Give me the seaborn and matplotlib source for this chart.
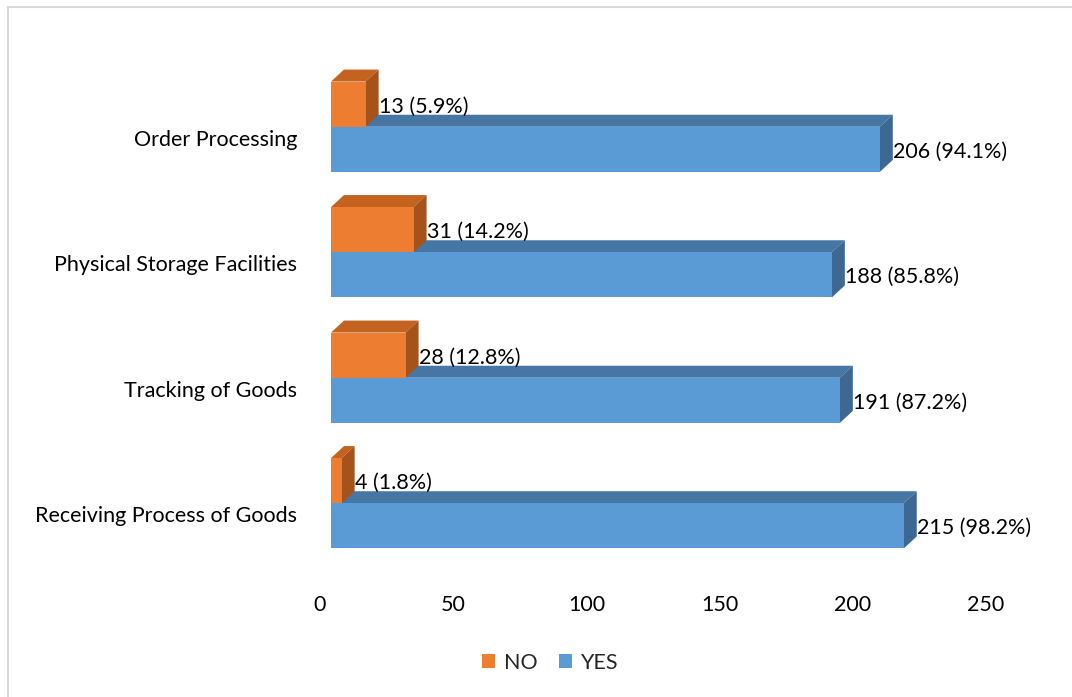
import numpy as np
import pandas as pd
import matplotlib
matplotlib.use("Agg")
import matplotlib.pyplot as plt
from matplotlib.patches import Polygon
from matplotlib.lines import Line2D
from matplotlib.transforms import ScaledTranslation
import seaborn as sns

categories = ["Order Processing", "Physical Storage Facilities",
              "Tracking of Goods", "Receiving Process of Goods"]
no_counts = [13, 31, 28, 4]
yes_counts = [206, 188, 191, 215]
no_pct = ["5.9%", "14.2%", "12.8%", "1.8%"]
yes_pct = ["94.1%", "85.8%", "87.2%", "98.2%"]
series = ["NO", "YES"]
x_ticks = [0, 50, 100, 150, 200, 250]

colors = {"NO": "#ED7D31", "YES": "#5B9BD5"}
top_col = {"NO": "#C4631F", "YES": "#4676A3"}
side_col = {"NO": "#A5521B", "YES": "#3D6891"}

df = pd.DataFrame({
    "category": categories * 2,
    "answer": ["NO"] * 4 + ["YES"] * 4,
    "count": no_counts + yes_counts,
    "label": [f"{n} ({p})" for n, p in zip(no_counts, no_pct)] +
             [f"{n} ({p})" for n, p in zip(yes_counts, yes_pct)],
})

sns.set_style("white")
plt.rcParams["font.family"] = ["Lato", "DejaVu Sans"]
FS = 15.5

fig = plt.figure(figsize=(10.72, 6.97), dpi=100)
ax = fig.add_axes([331 / 1072, 131 / 697, 666 / 1072, 502 / 697])

sns.barplot(data=df, y="category", x="count", hue="answer", order=categories,
            hue_order=series, palette=colors, orient="h", width=0.72,
            saturation=1, legend=False, ax=ax, linewidth=0, zorder=3)

ax.set_xlim(0, 250)
ax.set_ylim(3.5, -0.5)

# 3D depth in data units
px_x = 666 / 250.0
px_y = 502 / 4.0
dx = 13 / px_x
dy = 12 / px_y

bars = list(ax.patches)
for i, p in enumerate(bars):
    s = series[i // 4]
    z = 2 if s == "YES" else 5
    p.set_zorder(z + 1)
    x0 = p.get_x()
    x1 = x0 + p.get_width()
    yt = p.get_y()
    yb = yt + p.get_height()
    top = Polygon([(x0, yt), (x0 + dx, yt - dy), (x1 + dx, yt - dy), (x1, yt)],
                  closed=True, facecolor=top_col[s], edgecolor="none", zorder=z)
    side = Polygon([(x1, yt), (x1 + dx, yt - dy), (x1 + dx, yb - dy), (x1, yb)],
                   closed=True, facecolor=side_col[s], edgecolor="none", zorder=z)
    ax.add_patch(top)
    ax.add_patch(side)
    lab = df["label"].iloc[i]
    ax.text(x1 + dx + 0.2, (yt + yb) / 2 + 0.02, lab, va="center", ha="left",
            fontsize=FS, color="#000000", zorder=10)

ax.set_xticks(x_ticks)
ax.set_xticklabels([str(t) for t in x_ticks])
ax.set_xlabel("")
ax.set_ylabel("")
ax.tick_params(axis="both", length=0, labelsize=FS, colors="#000000")
ax.tick_params(axis="x", pad=21)
ax.tick_params(axis="y", pad=24.5)
for lbl in ax.get_xticklabels():
    lbl.set_transform(lbl.get_transform() + ScaledTranslation(-11 / 100, 0, fig.dpi_scale_trans))
for lbl in ax.get_yticklabels():
    lbl.set_transform(lbl.get_transform() + ScaledTranslation(0, -11 / 100, fig.dpi_scale_trans))
for sp in ax.spines.values():
    sp.set_visible(False)
ax.grid(False)

handles = [plt.Rectangle((0, 0), 1, 1, facecolor=colors[s], edgecolor="none") for s in series]
fig.legend(handles, series, loc="center", bbox_to_anchor=(0.513, 0.049), ncol=2,
           frameon=False, fontsize=FS, handlelength=0.6, handleheight=0.6,
           handletextpad=0.4, columnspacing=1.0)

fig.add_artist(Line2D([8 / 1072, 8 / 1072], [0, 1 - 7 / 697], transform=fig.transFigure,
                      color="#D9D9D9", linewidth=1.5))
fig.add_artist(Line2D([8 / 1072, 1], [1 - 7 / 697, 1 - 7 / 697], transform=fig.transFigure,
                      color="#D9D9D9", linewidth=1.5))

fig.savefig("out.png", dpi=100, facecolor="white")
